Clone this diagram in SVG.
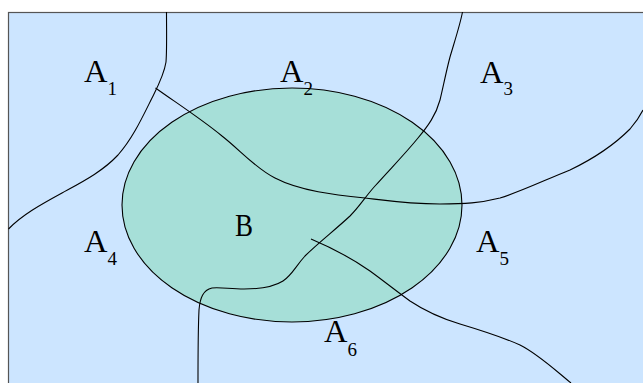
<svg xmlns="http://www.w3.org/2000/svg" width="643" height="383" viewBox="0 0 643 383">
<style>
.bd{fill:none;stroke:#000;stroke-width:1.1}
.lb{font-family:"Liberation Serif","Times New Roman",serif;font-size:32.5px;fill:#000}
.sb{font-family:"Liberation Serif","Times New Roman",serif;font-size:19px;fill:#000}
</style>
<rect width="643" height="383" fill="#fff"/>
<rect id="frame" x="8.5" y="12.5" width="700" height="400" fill="#cce5ff" stroke="#555" stroke-width="1.2"/>
<g id="B">
<ellipse cx="292" cy="205" rx="170" ry="117" fill="#a6dfd8" stroke="#000" stroke-width="1.1"/>
<text class="lb" x="235" y="236" textLength="18" lengthAdjust="spacingAndGlyphs">B</text>
</g>
<g id="connectors">
<path class="bd" d="M166.5,12 C166.5,30 167,50 166,62 C164,75 158,86 152,98 C143,116 133,138 118,155 C102,172 82,182 62,193 C40,205 22,215 8.5,229"/>
<path class="bd" d="M155.5,88 C175,102 200,118 222,136 C240,150 255,168 275,178 C300,191 335,195 365,198 C390,201 410,204 440,204 C465,204 480,203 500,198 C520,192 545,180 570,170 C595,158 615,144 630,129 C637,121 641,114 643,110"/>
<path class="bd" d="M462.5,12 C460,25 455,40 450,57 C446,72 443,88 440,100 C436,115 428,126 418,138 C405,154 392,167 375,186 C365,197 360,206 350,216 C335,230 318,243 305,256 C295,267 292,275 283,281 C272,288 258,289 244,289 C230,289 220,287 212,288 C203,290 200,298 199,310 C198,330 198,360 198,383"/>
<path class="bd" d="M311,239 C330,247 350,257 370,271 C385,282 395,290 410,301 C425,311 440,318 460,324 C480,330 500,336 520,345 C538,354 555,370 571,383"/>
</g>
<g id="A1"><text class="lb" x="84" y="82">A</text><text class="sb" x="107.5" y="95">1</text></g>
<g id="A2"><text class="lb" x="280" y="82">A</text><text class="sb" x="303.5" y="95">2</text></g>
<g id="A3"><text class="lb" x="480" y="83">A</text><text class="sb" x="503.5" y="95">3</text></g>
<g id="A4"><text class="lb" x="84" y="252">A</text><text class="sb" x="107.5" y="265">4</text></g>
<g id="A5"><text class="lb" x="476" y="252">A</text><text class="sb" x="499.5" y="265">5</text></g>
<g id="A6"><text class="lb" x="324" y="342">A</text><text class="sb" x="347.5" y="356">6</text></g>
</svg>
